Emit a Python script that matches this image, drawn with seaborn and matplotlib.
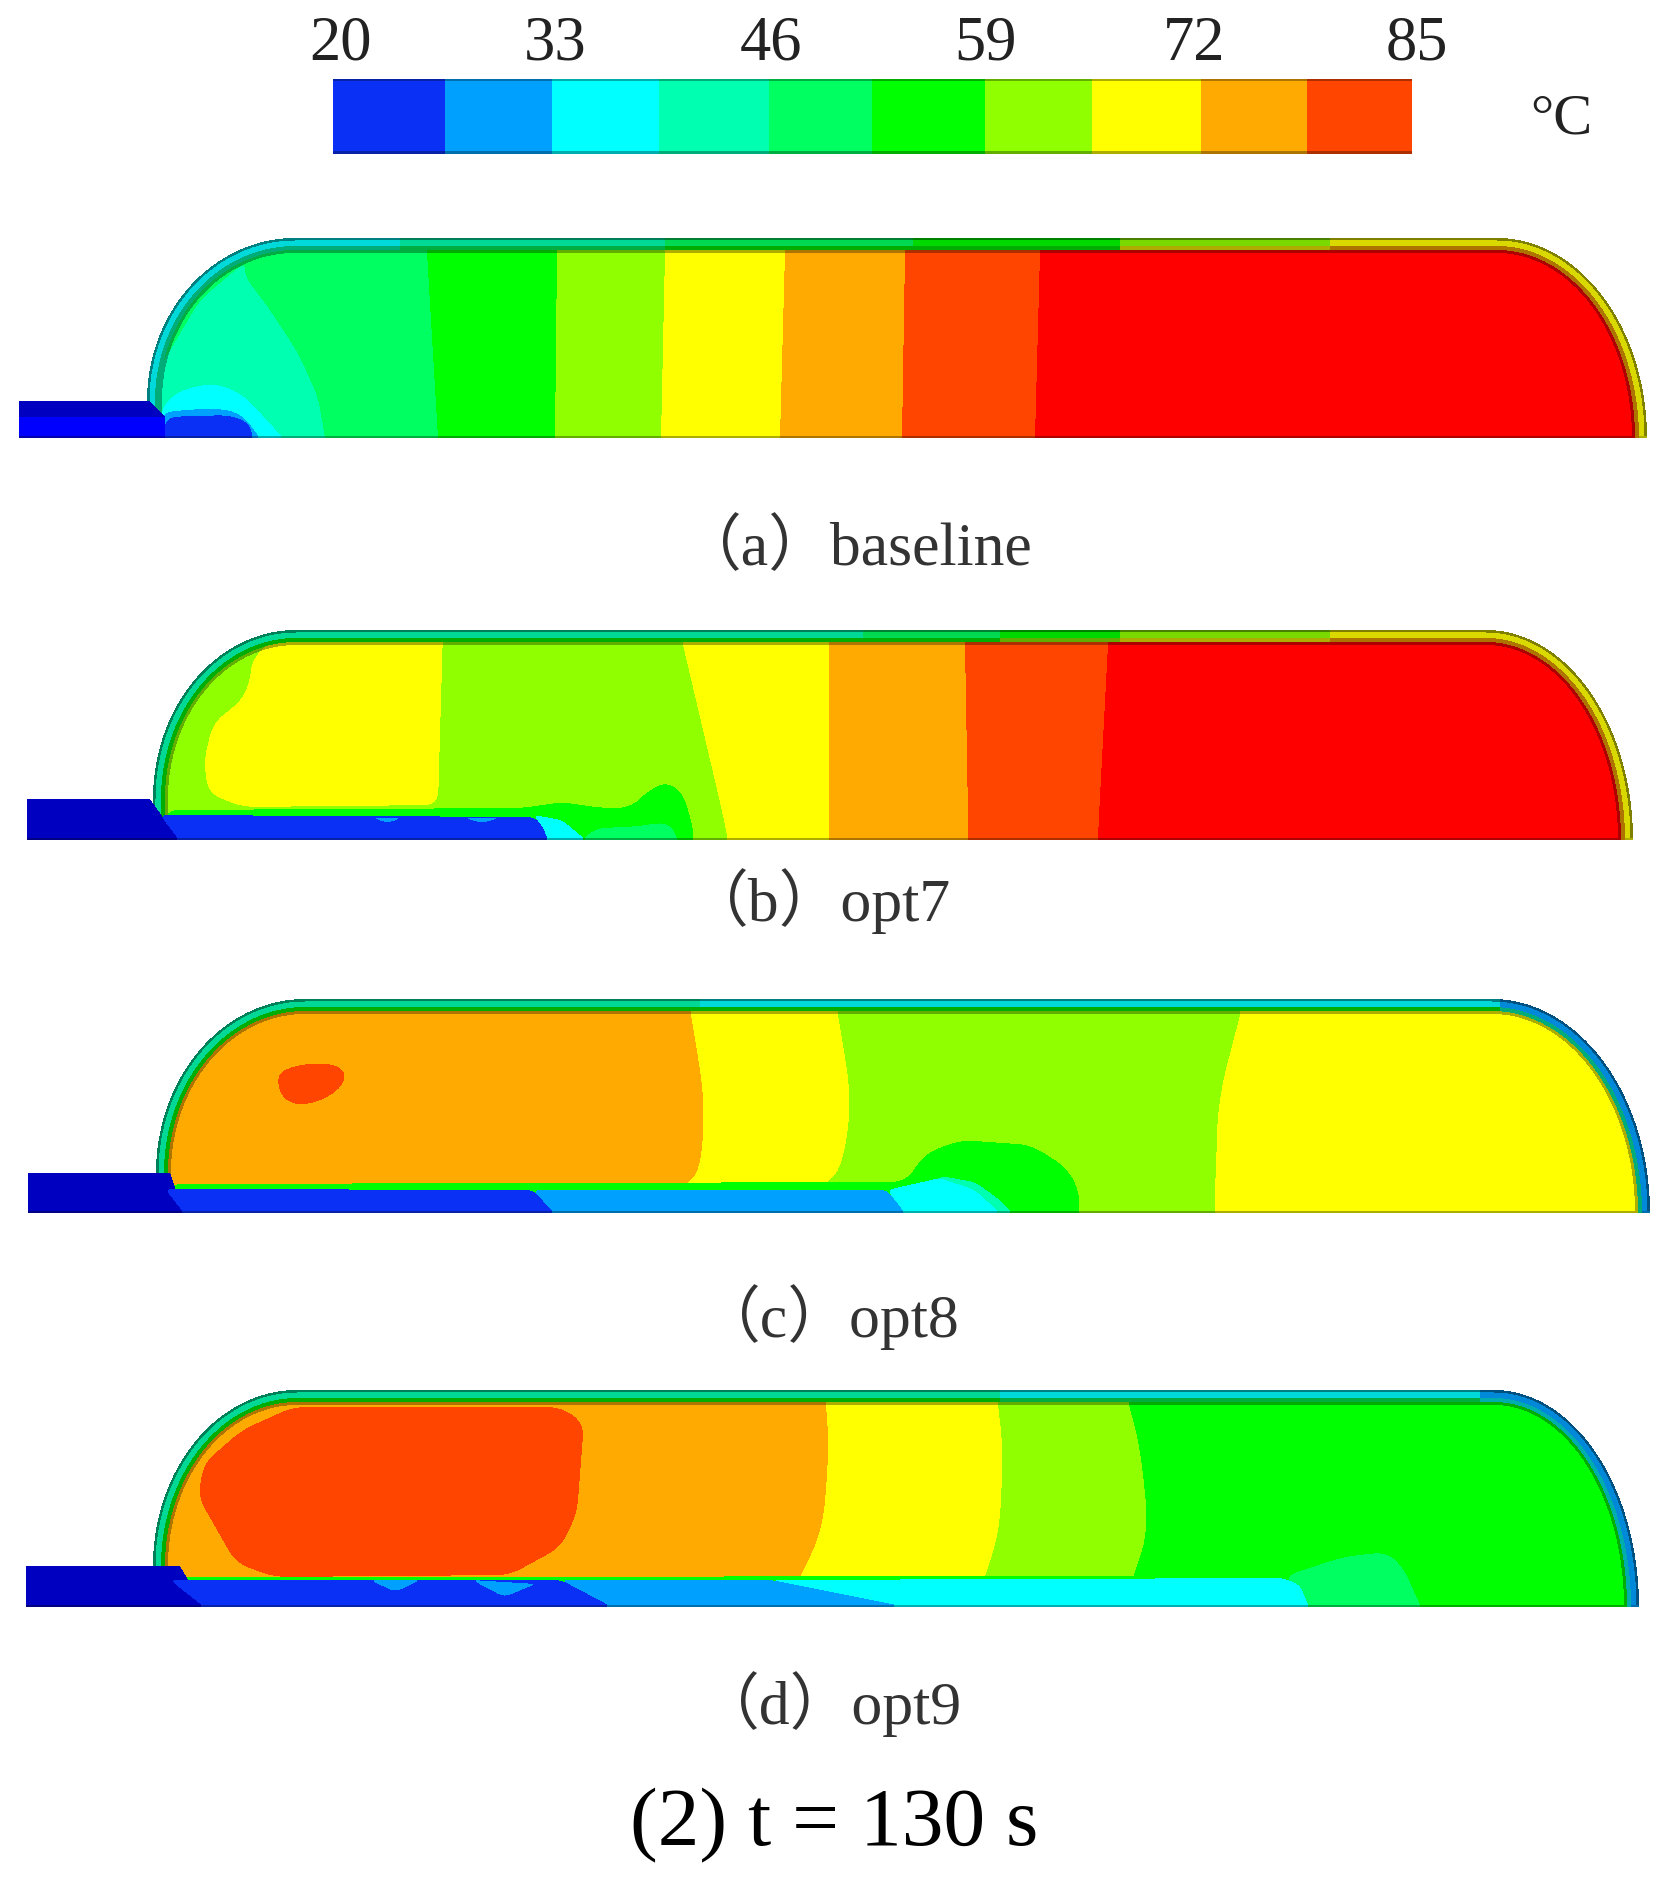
import numpy as np
import matplotlib
matplotlib.use("Agg")
import matplotlib.pyplot as plt
import seaborn as sns
from matplotlib.colors import ListedColormap
from matplotlib.path import Path

W, H = 1673, 1879

# contour levels, coldest to hottest
level_colors = ["#0000c0", "#0000ff", "#0a30f5", "#00a0ff", "#00ffff", "#00ffb0",
                "#00ff60", "#00ff00", "#90ff00", "#ffff00", "#ffaa00", "#ff4500", "#ff0000"]
shades = [1.0, 0.85, 0.68, 0.5]

# colorbar
bar_levels = [2, 3, 4, 5, 6, 7, 8, 9, 10, 11]
bar_edges = [333, 445, 552, 659, 769, 872, 985, 1092, 1201, 1307, 1412]
bar_labels = ["20", "33", "46", "59", "72", "85"]
bar_label_x = [341, 555, 771, 986, 1194, 1417]

# panel (a) baseline
a_levels = [6, 7, 8, 9, 10, 11, 12]
a_edge_y = [253, 438]
a_edges = [[427, 557, 665, 785, 905, 1040], [438, 555, 661, 780, 902, 1035]]
a_blobs = [
    (5, [(140, 438), (140, 401), (200, 300), (245, 262), (245, 277), (268, 307), (298, 353), (318, 397), (325, 438)]),
    (4, [(161, 407), (180, 390), (214, 383), (241, 393), (264, 417), (283, 438), (161, 438)]),
    (3, [(161, 412), (214, 408), (241, 413), (260, 438), (161, 438)]),
    (2, [(165, 417), (230, 415), (249, 423), (253, 438), (165, 438)]),
]
a_floor = [
    (0, [(19, 401), (150, 401), (165, 417), (19, 417)]),
    (1, [(19, 417), (165, 417), (165, 438), (19, 438)]),
]
a_wall_x = [0, 400, 665, 913, 1120, 1330]
a_wall_mid = [4, 5, 6, 7, 8, 9]
a_wall_in = [5, 6, 7, 7, 9, 10]

# panel (b) opt7
b_levels = [8, 9, 10, 11, 12]
b_edge_y = [645, 815, 840]
b_edges = [[683, 829, 965, 1108], [723, 829, 968, 1099], [728, 829, 968, 1098]]
b_blobs = [
    (9, [(280, 630), (252, 660), (250, 680), (242, 700), (213, 723), (204, 760), (208, 793), (242, 807), (438, 805), (443, 630)]),
    (7, [(165, 810), (523, 808), (562, 802), (601, 808), (630, 808), (649, 790), (667, 782), (683, 793), (693, 827),
         (693, 840), (165, 840)]),
    (6, [(596, 828), (630, 827), (669, 822), (678, 840), (582, 840)]),
]
b_floor = [
    (0, [(27, 799), (150, 799), (179, 840), (27, 840)]),
    (2, [(160, 815), (533, 817), (548, 827), (548, 840), (179, 840)]),
    (3, [(373, 818), (402, 818), (388, 823)]),
    (3, [(465, 818), (499, 818), (482, 823)]),
    (4, [(533, 815), (562, 820), (586, 840), (548, 840), (543, 827)]),
]
b_wall_x = [0, 863, 1000, 1120, 1330]
b_wall_mid = [5, 6, 7, 8, 9]
b_wall_in = [7, 7, 8, 9, 10]

# panel (c) opt8
c_levels = [10, 9, 8, 9]
c_edge_y = [1015, 1100, 1170, 1187]
c_edges = [[691, 838, 1240], [705, 852, 1218], [701, 842, 1216], [684, 821, 1215]]
c_blobs = [
    (11, [(281, 1070), (309, 1063), (340, 1065), (347, 1080), (330, 1097), (302, 1106), (284, 1100), (277, 1083)]),
    (7, [(168, 1184), (905, 1182), (926, 1153), (961, 1140), (1031, 1145), (1066, 1167), (1079, 1190), (1079, 1213), (168, 1213)]),
]
c_floor = [
    (0, [(28, 1173), (170, 1173), (184, 1213), (28, 1213)]),
    (2, [(165, 1189), (533, 1190), (554, 1213), (184, 1213)]),
    (3, [(533, 1190), (887, 1190), (905, 1213), (554, 1213)]),
    (5, [(940, 1176), (975, 1182), (1000, 1200), (1012, 1213), (905, 1213)]),
    (4, [(887, 1190), (940, 1178), (975, 1190), (1000, 1213), (905, 1213)]),
]
c_wall_x = [0, 700, 1500]
c_wall_mid = [5, 4, 3]
c_wall_in = [7, 7, 5]

# panel (d) opt9
d_levels = [10, 9, 8, 7]
d_edge_y = [1405, 1447, 1530, 1577]
d_edges = [[826, 998, 1129], [829, 1003, 1140], [823, 1000, 1149], [800, 985, 1133]]
d_blobs = [
    (11, [(293, 1407), (561, 1407), (584, 1423), (577, 1513), (561, 1547), (510, 1575), (274, 1577), (236, 1563),
          (198, 1497), (204, 1463), (242, 1430)]),
    (7, [(165, 1577), (1283, 1576), (1283, 1607), (165, 1607)]),
    (6, [(1283, 1577), (1343, 1557), (1386, 1552), (1403, 1567), (1421, 1607), (1309, 1607)]),
]
d_floor = [
    (0, [(26, 1566), (180, 1566), (204, 1607), (26, 1607)]),
    (2, [(170, 1580), (561, 1580), (612, 1607), (204, 1607)]),
    (3, [(561, 1580), (772, 1580), (906, 1607), (612, 1607)]),
    (3, [(370, 1580), (421, 1580), (395, 1592)]),
    (3, [(472, 1580), (536, 1584), (504, 1597)]),
    (4, [(772, 1580), (1283, 1578), (1300, 1585), (1309, 1607), (906, 1607)]),
]
d_wall_x = [0, 1000, 1480]
d_wall_mid = [5, 4, 3]
d_wall_in = [7, 6, 4]

captions = ["（a）baseline", "（b）opt7", "（c）opt8", "（d）opt9"]
caption_x = [855, 818, 828, 829]
caption_y = [549, 901, 1317, 1704]

# x0, x_join, x_start, x_end, x_right, y_top, y_inlet, y_bottom
outlines = {
    "a": (19, 147, 295, 1497, 1647, 238, 401, 438),
    "b": (27, 153, 296, 1486, 1633, 630, 799, 840),
    "c": (28, 156, 305, 1492, 1650, 999, 1173, 1213),
    "d": (26, 153, 297, 1494, 1639, 1390, 1566, 1607),
}
fields = {
    "a": (a_levels, a_edge_y, a_edges, a_blobs, a_floor, a_wall_x, a_wall_mid, a_wall_in),
    "b": (b_levels, b_edge_y, b_edges, b_blobs, b_floor, b_wall_x, b_wall_mid, b_wall_in),
    "c": (c_levels, c_edge_y, c_edges, c_blobs, c_floor, c_wall_x, c_wall_mid, c_wall_in),
    "d": (d_levels, d_edge_y, d_edges, d_blobs, d_floor, d_wall_x, d_wall_mid, d_wall_in),
}


def add_px_axes(fig, x0, x1, y0, y1):
    return fig.add_axes([x0 / W, 1 - y1 / H, (x1 - x0) / W, (y1 - y0) / H])


def round_corners(pts, radius, closed=True, y_keep=np.inf):
    """Round each corner of a contour over a fixed distance, except on the floor."""
    pts = np.asarray(pts, dtype=float)
    n = len(pts)
    out = [] if closed else [pts[0]]
    for i in range(n) if closed else range(1, n - 1):
        p, a, b = pts[i], pts[i - 1], pts[(i + 1) % n]
        if p[1] >= y_keep:
            out.append(p)
            continue
        d1 = min(radius, np.linalg.norm(a - p) / 2)
        d2 = min(radius, np.linalg.norm(b - p) / 2)
        start = p + (a - p) / np.linalg.norm(a - p) * d1
        end = p + (b - p) / np.linalg.norm(b - p) * d2
        for s in np.linspace(0, 1, 7):
            out.append((1 - s) ** 2 * start + 2 * s * (1 - s) * p + s ** 2 * end)
    if not closed:
        out.append(pts[-1])
    return np.array(out)


def inside_dome(xx, yy, outline, t):
    """Dome outline pulled in by t pixels, open at the bottom."""
    _, x_join, x_start, x_end, x_right, y_top, y_inlet, y_bottom = outline
    ok = (yy >= y_top + t) & (xx >= x_join + t) & (xx <= x_right - t)
    left = (xx < x_start) & (yy < y_inlet)
    al, bl = x_start - x_join - t, y_inlet - y_top - t
    ok &= ~(left & (((xx - x_start) / al) ** 2 + ((yy - y_inlet) / bl) ** 2 > 1))
    right = xx > x_end
    ar, br = x_right - x_end - t, y_bottom - y_top - t
    ok &= ~(right & (((xx - x_end) / ar) ** 2 + ((yy - y_bottom) / br) ** 2 > 1))
    return ok


def paint_polys(grid, points, polys, shape, y_bottom, radius):
    hit_all = np.zeros(shape, dtype=bool)
    for level, poly in polys:
        pts = np.array(poly, dtype=float)
        # the inlet keeps its square corners, contours get rounded
        if level > 1:
            pts = round_corners(pts, radius, y_keep=y_bottom)
        hit = Path(pts).contains_points(points).reshape(shape)
        grid[hit] = level
        hit_all |= hit
    return hit_all


def draw_panel(fig, cmap, outline, field):
    levels, edge_y, edges, blobs, floor, wall_x, wall_mid, wall_in = field
    x0, _, _, _, x_right, y_top, _, y_bottom = outline
    xs = np.arange(x0, x_right + 1) + 0.5
    ys = np.arange(y_top, y_bottom) + 0.5
    xx, yy = np.meshgrid(xs, ys)
    points = np.column_stack([xx.ravel(), yy.ravel()])

    # vertical bands, one row of edges at a time
    edges = np.array(edges, dtype=float)
    curves = [round_corners(np.column_stack([edge_y, edges[:, k]]), 35, closed=False) for k in range(edges.shape[1])]
    grid = np.zeros(xx.shape, dtype=int)
    lv = np.array(levels)
    for r, y in enumerate(ys):
        row_edges = [np.interp(y, c[:, 0], c[:, 1]) for c in curves]
        grid[r] = lv[np.searchsorted(row_edges, xs, side="right")]
    paint_polys(grid, points, blobs, xx.shape, y_bottom, 14)

    # wall layers
    base = grid.copy()
    col = np.searchsorted(wall_x, xs, side="right") - 1
    mid = np.array(wall_mid)[col][None, :].repeat(len(ys), axis=0)
    inner = np.array(wall_in)[col][None, :].repeat(len(ys), axis=0)
    n = len(level_colors)
    dome = [inside_dome(xx, yy, outline, t) for t in (0, 2.5, 8, 12, 15)]
    grid[dome[3] & ~dome[4]] = base[dome[3] & ~dome[4]] + 2 * n
    grid[dome[2] & ~dome[3]] = inner[dome[2] & ~dome[3]] + 2 * n
    grid[dome[1] & ~dome[2]] = mid[dome[1] & ~dome[2]] + n
    grid[dome[0] & ~dome[1]] = mid[dome[0] & ~dome[1]] + 3 * n

    floor_hit = paint_polys(grid, points, floor, xx.shape, y_bottom, 7)
    grid[-2:] = grid[-3] % n + 2 * n

    ax = add_px_axes(fig, x0, x_right + 1, y_top, y_bottom)
    sns.heatmap(grid, mask=~(dome[0] | floor_hit), cmap=cmap, vmin=-0.5, vmax=len(cmap.colors) - 0.5,
                cbar=False, xticklabels=False, yticklabels=False, ax=ax, rasterized=True)
    ax.set_xticks([])
    ax.set_yticks([])


def draw_colorbar(fig, cmap):
    x0, x1 = bar_edges[0], bar_edges[-1]
    y0, y1 = 79, 154
    xs = np.arange(x0, x1) + 0.5
    row = np.array(bar_levels)[np.searchsorted(bar_edges, xs, side="right") - 1]
    grid = np.tile(row, (y1 - y0, 1))
    n = len(level_colors)
    grid[:2] += 2 * n
    grid[-3:] += 2 * n
    ax = add_px_axes(fig, x0, x1, y0, y1)
    sns.heatmap(grid, cmap=cmap, vmin=-0.5, vmax=len(cmap.colors) - 0.5, cbar=False,
                xticklabels=False, yticklabels=False, ax=ax, rasterized=True)
    ax.set_xticks([])
    ax.set_yticks([])


sns.set_style("white")
plt.rcParams["font.family"] = ["Liberation Serif", "Noto Sans CJK SC"]

palette = [tuple(np.array(matplotlib.colors.to_rgb(c)) * s) for s in shades for c in level_colors]
cmap = ListedColormap(palette)

fig = plt.figure(figsize=(W / 100, H / 100), dpi=100)

draw_colorbar(fig, cmap)
for key in outlines:
    draw_panel(fig, cmap, outlines[key], fields[key])

for x, label in zip(bar_label_x, bar_labels):
    fig.text(x / W, 1 - 45 / H, label, fontsize=45, ha="center", va="center", color="#222222")
fig.text(1561 / W, 1 - 120 / H, "°C", fontsize=42, ha="center", va="center", color="#222222")
for x, y, label in zip(caption_x, caption_y, captions):
    fig.text(x / W, 1 - y / H, label, fontsize=44.5, ha="center", va="center", color="#333333")
fig.text(834 / W, 1 - 1826 / H, "(2) t = 130 s", fontsize=60, ha="center", va="center", color="black")

fig.savefig("out.png", dpi=100)
